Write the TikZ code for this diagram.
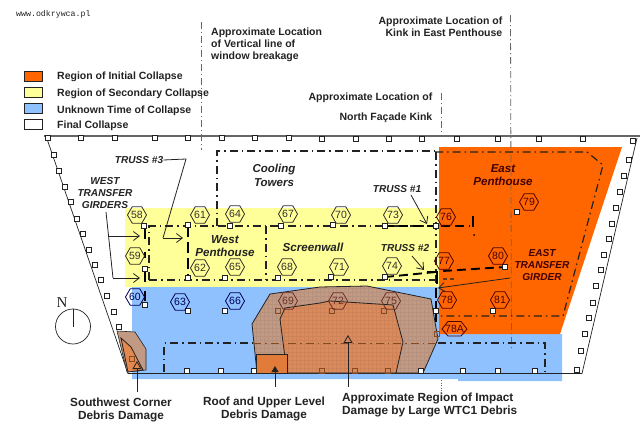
\documentclass[tikz,border=0pt]{standalone}
\usepackage{fontspec}
\setmainfont{Liberation Sans}
\newfontfamily\webfont{Liberation Mono}
\newfontfamily\compassfont{Liberation Serif}
\usetikzlibrary{arrows.meta}
\usetikzlibrary{shapes.geometric}
\definecolor{initialorange}{HTML}{FF6600}
\definecolor{secondyellow}{HTML}{FFFF99}
\definecolor{unknownblue}{HTML}{8FC1FF}
\definecolor{debristan}{HTML}{C29A84}
\definecolor{debrisorange}{HTML}{DB8A5C}
\definecolor{roofbrown}{HTML}{E07B3A}
\definecolor{inkgray}{HTML}{222222}
\definecolor{wallgray}{HTML}{666666}
\tikzset{
  legbox/.style={draw=inkgray,line width=0.9pt,minimum width=17.5pt,minimum height=10.5pt,inner sep=0pt},
  leglabel/.style={anchor=west,inner sep=0pt,font=\fontsize{10.5}{12}\selectfont\bfseries,text=inkgray},
  toplabel/.style={inner sep=0pt,font=\fontsize{10.5}{12}\selectfont\bfseries,text=inkgray},
  debrislabel/.style={inner sep=0pt,font=\fontsize{11.8}{13}\selectfont\bfseries,text=inkgray},
  areaname/.style={inner sep=0pt,align=center,font=\fontsize{11.6}{13}\selectfont\bfseries\itshape,text=inkgray},
  trussname/.style={inner sep=0pt,align=center,font=\fontsize{10.1}{12}\selectfont\bfseries\itshape,text=inkgray},
  hexbox/.style={regular polygon,regular polygon sides=6,draw=#1,text=#1,line width=0.8pt,
    minimum size=18pt,inner sep=0pt,font=\fontsize{10.5}{10}\selectfont},
  hexwide/.style={draw=none,text=#1,inner sep=0pt,font=\fontsize{10.5}{10}\selectfont},
  colbox/.style={draw=inkgray,fill=white,line width=0.9pt,minimum size=4.4pt,inner sep=0pt},
  kinkline/.style={draw=wallgray,line width=0.8pt,dash pattern=on 7pt off 3pt on 1pt off 3pt},
  frameline/.style={draw=inkgray,line width=1.2pt,dash pattern=on 8pt off 4pt on 1.5pt off 4pt},
  heavyline/.style={draw=black,line width=1.9pt,dash pattern=on 9pt off 5pt},
  callout/.style={draw=inkgray,line width=0.8pt},
  barbhead/.style={-{Straight Barb[length=6pt,width=9pt]}},
  openhead/.style={-{Triangle[open,length=8pt,width=9pt]}},
  fullhead/.style={-{Triangle[length=6pt,width=7pt]}},
}
\begin{document}
\begin{tikzpicture}[x=1pt,y=-1pt]
  \useasboundingbox (0,0) rectangle (640,434);
  \fill[unknownblue] (132,287) -- (439,287) -- (439,334) -- (562,334) -- (562,381) -- (458,381) -- (458,379) -- (132,379) -- cycle;
  \fill[secondyellow] (125,208) rectangle (439,287);
  \fill[initialorange] (439,147) -- (622,147) -- (560,334) -- (439,334) -- cycle;

  \draw[line width=1.1pt,draw=wallgray] (44,136) -- (640,136);
  \draw[line width=0.7pt,draw=inkgray] (46,136) -- (128,373.5) -- (582,373.5) -- (637,138);

  \draw[kinkline] (201,22) -- (201,150);
  \draw[kinkline] (510.5,15) -- (511.5,350);
  \draw[kinkline] (441,93) -- (441,136);
  \draw[kinkline,dash pattern=on 1pt off 1.5pt] (441,380) -- (441,395);

  \draw[frameline] (217,226) -- (217,151) -- (435,151);
  \draw[frameline] (149,280) -- (149,226) -- (435,226);
  \draw[frameline] (149,280) -- (436,280);
  \draw[frameline] (266,226) -- (266,280);
  \draw[frameline] (435,152) -- (587,152) -- (603,165) -- (563,316) -- (438,316);
  \draw[frameline,line width=1.5pt] (164,372) -- (164,343) -- (253,343);
  \draw[frameline,line width=1.5pt] (438,343) -- (545,343) -- (545,372);
  \draw[frameline,line width=1.5pt] (436,152) -- (436,286);

  \draw[heavyline] (385,226) -- (470,226);
  \draw[black,line width=1.9pt] (473,216) -- (473,227);
  \fill[black] (474,235) circle (1pt);
  \draw[heavyline] (385,277) -- (436,272);
  \draw[black,line width=2pt] (427,272) -- (437,272) -- (437,284);
  \draw[heavyline] (443,271) -- (505,267);
  \draw[heavyline,line width=1.2pt,dash pattern=on 4pt off 3pt,draw=inkgray!70!initialorange] (443,279) -- (456,279);
  \draw[heavyline,dash pattern=on 10pt off 3pt] (436,288) -- (436,322);
  \draw[black,line width=2pt,dash pattern=on 10pt off 5pt] (144.5,229) -- (144.5,242);
  \draw[black,line width=2pt] (145,252) -- (145,258);
  \draw[black,line width=2.2pt] (145,269) -- (145,282);
  \draw[black,line width=2pt] (145,291) -- (145,301);
  \draw[black,line width=2pt,dash pattern=on 11pt off 5pt] (188,226) -- (188,278);

  \draw[draw=inkgray,fill=debristan,line width=0.8pt] (252,324) -- (270,294) -- (320,287) -- (367,286) -- (431,299) -- (438,339) -- (423,373) -- (257,373) -- cycle;
  \draw[draw=inkgray,fill=debrisorange,line width=0.8pt] (280,319) -- (285,308) -- (320,303) -- (330,301) -- (393,305) -- (403,342) -- (396,373) -- (287,373) -- cycle;
  \begin{scope}
    \clip (252,324) -- (270,294) -- (320,287) -- (367,286) -- (431,299) -- (438,339) -- (423,373) -- (257,373) -- cycle;
    \draw[draw=inkgray,opacity=0.07,line width=0.3pt,step=4pt] (250,284) grid (440,376);
  \end{scope}
  \draw[draw=roofbrown!60!black,line width=1pt,dash pattern=on 8pt off 4pt on 1.5pt off 4pt] (253,343) -- (438,343);
  \draw[draw=inkgray,fill=roofbrown,line width=0.8pt] (256,354) rectangle (287,373);
  \draw[draw=inkgray,fill=debristan,line width=0.6pt] (117,331) -- (135,332) -- (146,349) -- (146,370) -- (127,372) -- cycle;
  \draw[draw=inkgray,fill=roofbrown!90!white,line width=0.8pt] (121,338) -- (131,347) -- (143,370) -- (128,372) -- cycle;

  \foreach \x/\y in {48/138,81/138,115/138,155/138,188/138,222/138,255/138,289/138,322/139,356/139,389/139,422/139,457/139,498/139,539/139,583/139,
    633/141,629/160,624/176,620/192,616/208,612/224,609/239,604/255,601/270,596/286,593/303,589/318,585/334,581/351,577/370,
    54/155,59/171,65/187,71/202,77/219,83/234,89/250,95/265,101/280,107/296,114/312,119/327,
    187/371,221/371,254/371,421/371,463/371,498/371,535/371,
    144/226,145/269,188/225,188/278,145/305,188/311,225/311,225/278,230/226,
    281/226,333/225,385/226,278/278,331/277,385/277,
    436/226,436/311,493/311,517/212,505/267}
    \node[colbox] at (\x,\y) {};
  \foreach \x/\y in {278/311,332/311,384/311,437/334,322/371,355/371,388/371,132/359}
    \node[colbox,draw=roofbrown!60!black,fill=none] at (\x,\y) {};

  \foreach \n/\x/\y in {58/137/215,61/200/215,64/235/214,67/288/214,70/341/215,73/393/215,59/135/256,62/200/268,65/235/267,68/287/267,71/339/267,74/392/266}
    \node[hexbox=black!85!olive] (hex\n) at (\x,\y) {\n};
  \foreach \n/\x/\y in {60/135/297,63/180/302,66/235/301}
    \node[hexbox=blue!35!black] (hex\n) at (\x,\y) {\n};
  \foreach \n/\x/\y in {76/446/217,79/529/202,77/444/261,80/498/256,78/447/300,81/500/300}
    \node[hexbox=red!30!black] (hex\n) at (\x,\y) {\n};
  \foreach \n/\x/\y in {69/288/301,72/338/301,75/391/301}
    \node[hexbox=red!30!black!70!debristan] (hex\n) at (\x,\y) {\n};
  \node[hexwide=red!30!black] (hex78A) at (454.5,329) {78A};
  \draw[red!30!black,line width=0.8pt] (442,329) -- (448,321.5) -- (461,321.5) -- (467,329) -- (461,336) -- (448,336) -- cycle;

  \node[anchor=west,inner sep=0pt,font=\fontsize{8.25}{9}\selectfont\webfont,text=inkgray] (web) at (16,14.5) {www.odkrywca.pl};

  \node[legbox,fill=initialorange] (legA) at (33.5,76.5) {};
  \node[legbox,fill=secondyellow] (legB) at (33.5,92.5) {};
  \node[legbox,fill=unknownblue] (legC) at (33.5,108.5) {};
  \node[legbox,fill=white] (legD) at (33.5,124.5) {};
  \node[leglabel] (legtextA) at (57,77) {Region of Initial Collapse};
  \node[leglabel] (legtextB) at (57,94) {Region of Secondary Collapse};
  \node[leglabel] (legtextC) at (57,110.5) {Unknown Time of Collapse};
  \node[leglabel] (legtextD) at (57,125.5) {Final Collapse};

  \node[toplabel,anchor=north west,align=left] (window) at (211,27.5) {Approximate Location\\of Vertical line of\\window breakage};
  \node[toplabel,anchor=north east,align=right] (eastkink) at (502.5,16.5) {Approximate Location of\\Kink in East Penthouse};
  \node[toplabel,anchor=east] (northA) at (432.5,98) {Approximate Location of};
  \node[toplabel,anchor=east] (northB) at (432.5,118) {North Façade Kink};

  \node[areaname,font=\fontsize{11.5}{14}\selectfont\bfseries\itshape] (cooling) at (274,175) {Cooling\\Towers};
  \node[areaname] (westpent) at (225,246) {West\\Penthouse};
  \node[areaname] (screen) at (313,247) {Screenwall};
  \node[areaname,text=red!25!black] (eastpent) at (503,175.5) {East\\Penthouse};
  \node[trussname] (truss3) at (139,160) {TRUSS \#3};
  \node[trussname] (truss1) at (397,189) {TRUSS \#1};
  \node[trussname] (truss2) at (405,248.5) {TRUSS \#2};
  \node[trussname] (westgird) at (105,193.5) {WEST\\TRANSFER\\GIRDERS};
  \node[trussname,text=red!25!black] (eastgird) at (542,265.5) {EAST\\TRANSFER\\GIRDER};

  \node[debrislabel,align=center] (swlabel) at (121,409.5) {Southwest Corner\\Debris Damage};
  \node[debrislabel,align=center] (rooflabel) at (264,408.5) {Roof and Upper Level\\Debris Damage};
  \node[debrislabel,anchor=west,align=left] (impactlabel) at (342,404.5) {Approximate Region of Impact\\Damage by Large WTC1 Debris};

  \coordinate (t3a) at (186,159);
  \coordinate (t3b) at (163,238);
  \coordinate (t3c) at (183,238);
  \coordinate (wga) at (106,212);
  \coordinate (wgb) at (109,236);
  \coordinate (wgc) at (140,236);
  \coordinate (wgd) at (113,278);
  \coordinate (wge) at (140,278);
  \coordinate (t1a) at (411,195);
  \coordinate (t1b) at (427,224);
  \coordinate (t2a) at (412,256);
  \coordinate (t2b) at (424,270);
  \coordinate (ega) at (510,278);
  \coordinate (egb) at (438,288);
  \coordinate (swa) at (137,392);
  \coordinate (swb) at (137,361);
  \coordinate (rfa) at (275,387);
  \coordinate (rfb) at (275,366);
  \coordinate (ima) at (348,387);
  \coordinate (imb) at (348,335);

  \draw[callout] (truss3.east) to (t3a) to (t3b);
  \draw[callout,barbhead] (t3b) to (t3c);
  \draw[callout] (wga) to (wgd);
  \draw[callout,barbhead] (wgb) to (wgc);
  \draw[callout,barbhead] (wgd) to (wge);
  \draw[callout,barbhead] (t1a) to (t1b);
  \draw[callout,barbhead] (t2a) to (t2b);
  \draw[callout,barbhead] (ega) to (egb);
  \draw[callout,openhead] (swa) to (swb);
  \draw[callout,fullhead] (rfa) to (rfb);
  \draw[callout,openhead] (ima) to (imb);

  \node[inner sep=0pt,font=\fontsize{15}{15}\selectfont\compassfont,text=inkgray] (north) at (62,303) {N};
  \node[circle,draw=inkgray,line width=0.7pt,minimum size=35pt,inner sep=0pt] (compass) at (73,326.5) {};
  \coordinate (needle) at (73,327);
  \draw[line width=0.7pt,draw=inkgray] (compass.north) to (needle);
\end{tikzpicture}
\end{document}
